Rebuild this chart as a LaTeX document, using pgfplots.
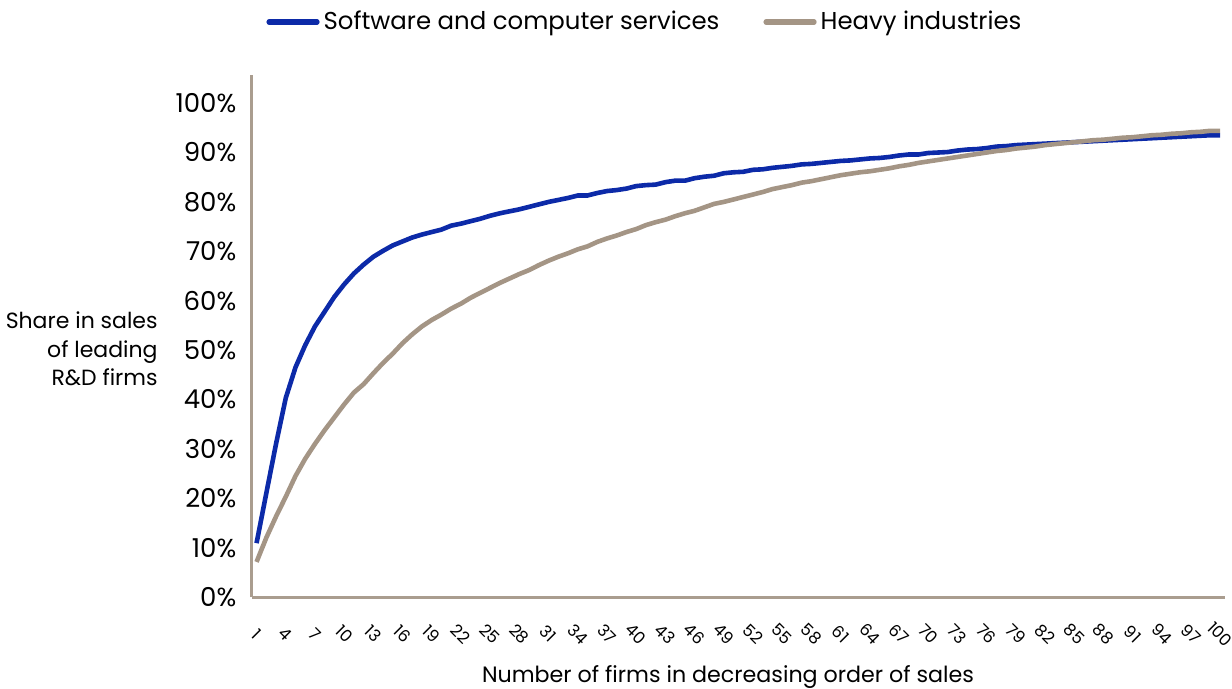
\documentclass[border=0pt]{standalone}
\usepackage{pgfplots}
\pgfplotsset{compat=1.18}
\usepackage{pgfplotstable}
\usepackage{fontspec}
\setmainfont{Poppins}
\definecolor{softblue}{RGB}{12,42,168}
\definecolor{heavygray}{RGB}{164,149,133}
\definecolor{axgray}{RGB}{170,157,143}
\pgfplotstableread{
n soft heavy
1 10.9 7.1
2 21.0 12.0
3 31.0 16.3
4 40.3 20.3
5 46.5 24.5
6 51.0 28.0
7 54.8 31.0
8 57.8 33.8
9 60.8 36.4
10 63.3 39.0
11 65.5 41.4
12 67.3 43.1
13 68.9 45.3
14 70.1 47.4
15 71.2 49.3
16 72.0 51.4
17 72.8 53.2
18 73.4 54.8
19 73.9 56.1
20 74.4 57.2
21 75.2 58.4
22 75.6 59.4
23 76.1 60.6
24 76.6 61.6
25 77.2 62.6
26 77.7 63.6
27 78.1 64.5
28 78.5 65.4
29 79.0 66.2
30 79.5 67.2
31 80.0 68.1
32 80.4 68.9
33 80.8 69.6
34 81.3 70.4
35 81.3 71.0
36 81.8 71.9
37 82.2 72.6
38 82.4 73.2
39 82.7 73.9
40 83.2 74.5
41 83.4 75.3
42 83.5 75.9
43 84.0 76.4
44 84.3 77.1
45 84.3 77.7
46 84.8 78.2
47 85.1 78.9
48 85.3 79.6
49 85.8 80.0
50 86.0 80.5
51 86.1 81.0
52 86.5 81.5
53 86.6 82.0
54 86.9 82.6
55 87.1 83.0
56 87.3 83.4
57 87.6 83.9
58 87.7 84.2
59 87.9 84.6
60 88.1 85.0
61 88.3 85.4
62 88.4 85.7
63 88.6 86.0
64 88.8 86.2
65 88.9 86.5
66 89.1 86.8
67 89.4 87.2
68 89.6 87.5
69 89.6 87.9
70 89.9 88.2
71 90.0 88.5
72 90.1 88.8
73 90.4 89.1
74 90.6 89.4
75 90.7 89.7
76 90.9 90.0
77 91.2 90.3
78 91.3 90.5
79 91.5 90.8
80 91.6 91.0
81 91.7 91.2
82 91.8 91.5
83 91.9 91.7
84 92.0 91.9
85 92.1 92.1
86 92.2 92.3
87 92.3 92.5
88 92.4 92.6
89 92.5 92.8
90 92.6 93.0
91 92.7 93.1
92 92.8 93.3
93 92.9 93.5
94 93.0 93.6
95 93.1 93.8
96 93.2 93.9
97 93.3 94.1
98 93.4 94.2
99 93.5 94.4
100 93.5 94.4
}\datatable
\begin{document}
\fontsize{12.5bp}{15bp}\selectfont
\begin{tikzpicture}
\begin{axis}[
  scale only axis,
  width=486.7bp, height=261bp,
  xmin=0.5, xmax=100.5,
  ymin=0, ymax=105.7,
  axis lines*=left,
  axis line style={axgray, line width=1.5bp},
  major tick length=0pt,
  xtick={1,4,...,100},
  ytick={0,10,...,100},
  yticklabel={\pgfmathprintnumber{\tick}\%},
  /pgf/number format/assume math mode=true,
  tick label style={font=\fontsize{13bp}{15bp}\selectfont},
  yticklabel style={anchor=east, inner sep=0pt, xshift=-7.5bp},
  xticklabel style={font=\fontsize{8.3bp}{10bp}\selectfont, yshift=-18.5bp, rotate=-45, anchor=center, inner sep=0pt},
  legend columns=2,
  legend style={at={(0.405,1.1015)}, anchor=center, draw=none, fill=none,
    font=\fontsize{12.2bp}{15bp}\selectfont,
    /tikz/every even column/.append style={column sep=20bp}},
  legend image code/.code={\draw[#1, line width=2.6bp, line cap=round] (-3bp,0bp) -- (21bp,0bp);},
  clip=false,
]
\addplot[softblue, line width=2.3bp, line join=round] table[x=n, y=soft] {\datatable};
\addlegendentry{Software and computer services}
\addplot[heavygray, line width=2.3bp, line join=round] table[x=n, y=heavy] {\datatable};
\addlegendentry{Heavy industries}
\end{axis}
\node[anchor=east, align=right, inner sep=0pt, font=\fontsize{11bp}{14.25bp}\selectfont] at (-46.85bp,124bp) {Share in sales\\of leading\\R\&D firms};
\node[inner sep=0pt, font=\fontsize{11.1bp}{15bp}\selectfont] at (238.15bp,-40bp) {Number of firms in decreasing order of sales};
\pgfresetboundingbox
\path[use as bounding box] (-125.85bp,-46bp) rectangle (490.15bp,298.5bp);
\end{tikzpicture}
\end{document}
